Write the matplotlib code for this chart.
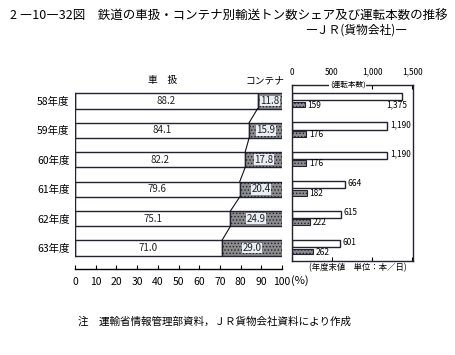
import matplotlib
matplotlib.use('Agg')
import matplotlib.pyplot as plt
import numpy as np

plt.rcParams['font.family'] = ['Noto Sans CJK JP', 'DejaVu Sans']
plt.rcParams['hatch.linewidth'] = 0.6

# データ
years = ['58年度', '59年度', '60年度', '61年度', '62年度', '63年度']
car_share = [88.2, 84.1, 82.2, 79.6, 75.1, 71.0]          # 車扱 (%)
cont_share = [11.8, 15.9, 17.8, 20.4, 24.9, 29.0]         # コンテナ (%)
car_trains = [1375, 1190, 1190, 664, 615, 601]            # 運転本数 車扱
cont_trains = [159, 176, 176, 182, 222, 262]              # 運転本数 コンテナ
car_labels = ['1,375', '1,190', '1,190', '664', '615', '601']
cont_labels = ['159', '176', '176', '182', '222', '262']

W, H = 456, 355
fig = plt.figure(figsize=(W / 100, H / 100), dpi=100)
fig.patch.set_facecolor('white')

# 行の中心(ピクセル)
row0, pitch = 101, 29.4


def fx(px):
    return px / W


def fy(py):
    return 1 - py / H


DARK = '#8c8c8c'
EDGE = '#222233'

# ---- 左: シェア ----
ax = fig.add_axes([fx(75), fy(269), fx(282) - fx(75), fy(86) - fy(269)])
ax.set_xlim(0, 100)
ax.set_ylim((269 - row0) / pitch, (86 - row0) / pitch)
y = np.arange(len(years))
h = 0.52
ax.barh(y, car_share, height=h, color='white', edgecolor=EDGE, linewidth=1.0)
ax.barh(y, cont_share, left=car_share, height=h, color=DARK, edgecolor=EDGE,
        linewidth=1.0, hatch='.....')
for i in range(len(years)):
    ax.text(car_share[i] / 2, i, f'{car_share[i]:.1f}', ha='center', va='center',
            fontsize=7, color='#222')
    ax.text(car_share[i] + cont_share[i] / 2, i, f'{cont_share[i]:.1f}', ha='center',
            va='center', fontsize=7, color='#222',
            bbox=dict(boxstyle='square,pad=0.05', fc='#e8eef4', ec='none'))
    if i < len(years) - 1:
        ax.plot([car_share[i], car_share[i + 1]], [i + h / 2, i + 1 - h / 2],
                color='#111', lw=0.8)
ax.plot([0, 0], [-h / 2, len(years) - 1 + h / 2], color=EDGE, lw=1.0)
for s in ['top', 'right', 'left']:
    ax.spines[s].set_visible(False)
ax.spines['bottom'].set_linewidth(1.0)
ax.set_yticks(y)
ax.set_yticklabels(years, fontsize=7.5)
ax.tick_params(axis='y', length=0, pad=4)
ax.set_xticks(np.arange(0, 101, 10))
ax.tick_params(axis='x', direction='in', length=3, labelsize=7.5, pad=6)
fig.text(fx(291), fy(281), '(%)', fontsize=8, va='center', ha='left')
fig.text(fx(163), fy(85), '車　扱', fontsize=7, ha='center', va='bottom')
fig.text(fx(265), fy(85), 'コンテナ', fontsize=7, ha='center', va='bottom')

# ---- 右: 運転本数 ----
ax2 = fig.add_axes([fx(292), fy(261), fx(413) - fx(292), fy(85) - fy(261)])
ax2.set_xlim(0, 1510)
ax2.set_ylim((261 - row0) / pitch, (85 - row0) / pitch)
ax2.barh(y - 0.15, car_trains, height=0.25, color='white', edgecolor=EDGE, linewidth=1.0)
ax2.barh(y + 0.12, cont_trains, height=0.2, color=DARK, edgecolor=EDGE, linewidth=0.8,
         hatch='.....')
for i in range(len(years)):
    if car_trains[i] > 1300:
        ax2.text(1310, i + 0.14, car_labels[i], ha='center', va='center', fontsize=6)
    else:
        ax2.text(car_trains[i] + 30, i - 0.2, car_labels[i], ha='left', va='center',
                 fontsize=6)
    ax2.text(cont_trains[i] + 35, i + 0.14, cont_labels[i], ha='left', va='center',
             fontsize=6)
ax2.set_yticks([])
ax2.xaxis.tick_top()
ax2.set_xticks([0, 500, 1000, 1500])
ax2.set_xticklabels(['0', '500', '1,000', '1,500'])
ax2.tick_params(axis='x', length=0, labelsize=6, pad=6)
ax2.tick_params(axis='x', bottom=True, direction='in', length=3)
ax2.tick_params(axis='x', labelbottom=False)
for s in ax2.spines.values():
    s.set_linewidth(1.0)
    s.set_color(EDGE)
ax2.text(0.46, 1.0, '(運転本数)', transform=ax2.transAxes, ha='center', va='center',
         fontsize=5.5, bbox=dict(boxstyle='square,pad=0.1', fc='white', ec='none'))
fig.text(fx(358), fy(268), '(年度末値　単位：本／日)', fontsize=6, ha='center', va='center')

# ---- タイトル・注 ----
fig.text(fx(10), fy(16), '2 ―10―32図　鉄道の車扱・コンテナ別輸送トン数シェア及び運転本数の推移',
         fontsize=9, ha='left', va='center')
fig.text(fx(356), fy(30), '―ＪＲ(貨物会社)―', fontsize=8.5, ha='center', va='center')
fig.text(fx(78), fy(322), '注　運輸省情報管理部資料，ＪＲ貨物会社資料により作成',
         fontsize=7.6, ha='left', va='center')

fig.savefig('out.png', dpi=100, facecolor='white')
